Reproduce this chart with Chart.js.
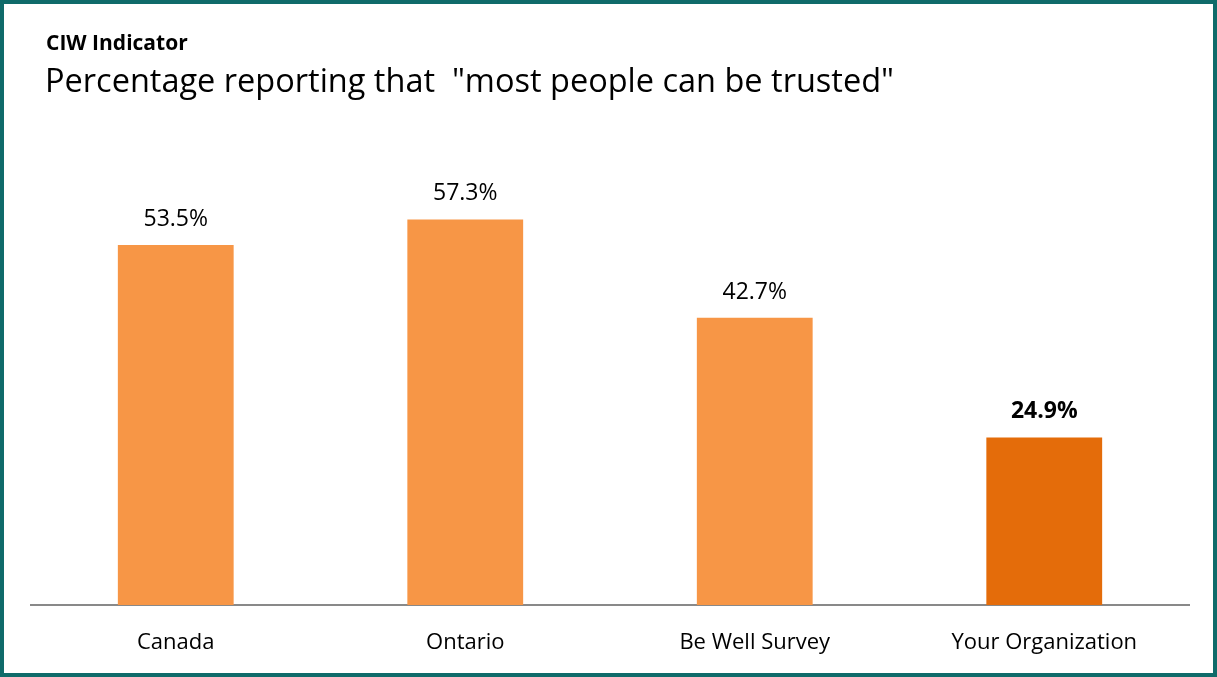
<!DOCTYPE html>
<html>
<head>
<meta charset="utf-8">
<script src="https://cdn.jsdelivr.net/npm/chart.js@4.4.1/dist/chart.umd.min.js"></script>
<style>
  html, body { margin: 0; padding: 0; background: #fff; }
  .frame {
    width: 1217px;
    height: 677px;
    box-sizing: border-box;
    border: 4px solid #0f6b6a;
    position: relative;
    font-family: 'Open Sans', 'Noto Sans', sans-serif;
    color: #000;
  }
  .kicker {
    position: absolute;
    left: 42px;
    top: 26px;
    font-size: 21px;
    line-height: 25px;
    font-weight: bold;
  }
  .headline {
    position: absolute;
    left: 41px;
    top: 56px;
    font-size: 32.5px;
    line-height: 39px;
    white-space: pre;
  }
  #chart { display: block; }
</style>
</head>
<body>
<div class="frame">
  <canvas id="chart" width="1209" height="669"></canvas>
  <div class="kicker">CIW Indicator</div>
  <div class="headline">Percentage reporting that  "most people can be trusted"</div>
</div>
<script>
const categories = ["Canada", "Ontario", "Be Well Survey", "Your Organization"];
const values = [53.5, 57.3, 42.7, 24.9];
const barColors = ["#f79646", "#f79646", "#f79646", "#e46c0a"];
const boldLabel = [false, false, false, true];

const FONT = "'Open Sans', 'Noto Sans', sans-serif";

// value labels above each bar
const valueLabels = {
  id: "valueLabels",
  afterDatasetsDraw(chart) {
    const ctx = chart.ctx;
    const meta = chart.getDatasetMeta(0);
    ctx.save();
    ctx.fillStyle = "#000";
    ctx.textAlign = "center";
    ctx.textBaseline = "alphabetic";
    meta.data.forEach((bar, i) => {
      ctx.font = (boldLabel[i] ? "bold " : "") + "23px " + FONT;
      ctx.fillText(values[i].toFixed(1) + "%", bar.x, bar.y - 19);
    });
    ctx.restore();
  },
};

new Chart(document.getElementById("chart"), {
  type: "bar",
  data: {
    labels: categories,
    datasets: [
      {
        data: values,
        backgroundColor: barColors,
        borderWidth: 0,
        barPercentage: 0.4,
        categoryPercentage: 1,
      },
    ],
  },
  options: {
    responsive: false,
    animation: false,
    layout: {
      padding: { left: 27, right: 24, top: 130, bottom: 0 },
    },
    plugins: {
      legend: { display: false },
      tooltip: { enabled: false },
    },
    scales: {
      x: {
        grid: { display: false, drawTicks: false },
        border: { display: true, color: "#898989", width: 2 },
        ticks: {
          color: "#000",
          padding: 25,
          font: { family: FONT, size: 22 },
        },
        afterFit(scale) {
          scale.height = 68;
        },
      },
      y: {
        display: false,
        min: 0,
        max: 70,
      },
    },
  },
  plugins: [valueLabels],
});
</script>
</body>
</html>
